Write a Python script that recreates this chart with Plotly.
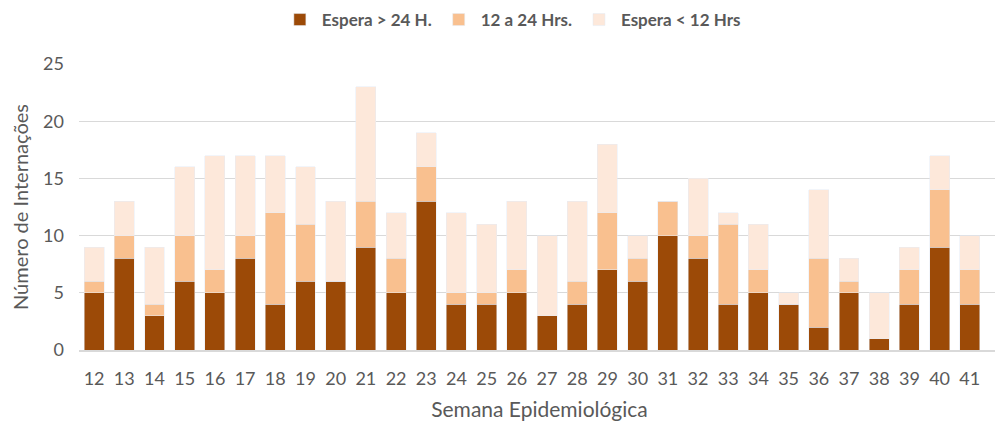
import plotly.graph_objects as go

weeks = [str(w) for w in range(12, 42)]
espera_24 = [5, 8, 3, 6, 5, 8, 4, 6, 6, 9, 5, 13, 4, 4, 5, 3, 4, 7, 6, 10, 8, 4, 5, 4, 2, 5, 1, 4, 9, 4]
espera_12_24 = [1, 2, 1, 4, 2, 2, 8, 5, 0, 4, 3, 3, 1, 1, 2, 0, 2, 5, 2, 3, 2, 7, 2, 0, 6, 1, 0, 3, 5, 3]
espera_12 = [3, 3, 5, 6, 10, 7, 5, 5, 7, 10, 4, 3, 7, 6, 6, 7, 7, 6, 2, 0, 5, 1, 4, 1, 6, 2, 4, 2, 3, 3]
y_ticks = [0, 5, 10, 15, 20, 25]

FONT = "Lato"
GRAY = "#595959"

fig = go.Figure()
fig.add_bar(x=weeks, y=espera_24, name="Espera > 24 H.", marker_color="#9C4A07")
fig.add_bar(x=weeks, y=espera_12_24, name="12 a 24 Hrs.", marker_color="#F9C08F")
fig.add_bar(x=weeks, y=espera_12, name="Espera < 12 Hrs", marker_color="#FDE8DA")

# page body has an 8px default margin, so the figure is sized/offset accordingly
fig.update_layout(
    width=995, height=417,
    barmode="stack", bargap=0.34,
    plot_bgcolor="white", paper_bgcolor="white",
    margin=dict(l=71, r=3, t=56, b=75),
    font=dict(family=FONT, color=GRAY, size=17),
    legend=dict(orientation="h", x=0.47, xanchor="center", y=1 - 12 / 417, yanchor="middle",
                yref="container",
                font=dict(size=17, color=GRAY, family=FONT, weight="bold"),
                traceorder="normal", itemwidth=34),
    xaxis=dict(type="category", range=[-0.5, 30.0], showgrid=False, showline=True,
               linecolor="#D9D9D9", linewidth=1.5, ticks="", ticklabelstandoff=12,
               tickfont=dict(size=18, color=GRAY), automargin=False,
               title=dict(text="Semana Epidemiológica", font=dict(size=21, color=GRAY), standoff=14)),
    yaxis=dict(range=[0, 25], tickvals=y_ticks, showgrid=True, gridcolor="#D9D9D9", gridwidth=1.2,
               zeroline=False, showline=False, ticks="", ticklabelstandoff=14, automargin=False,
               tickfont=dict(size=18, color=GRAY),
               title=dict(text="Número de Internações", font=dict(size=20, color=GRAY), standoff=10)),
)

fig.write_html("out.html")
